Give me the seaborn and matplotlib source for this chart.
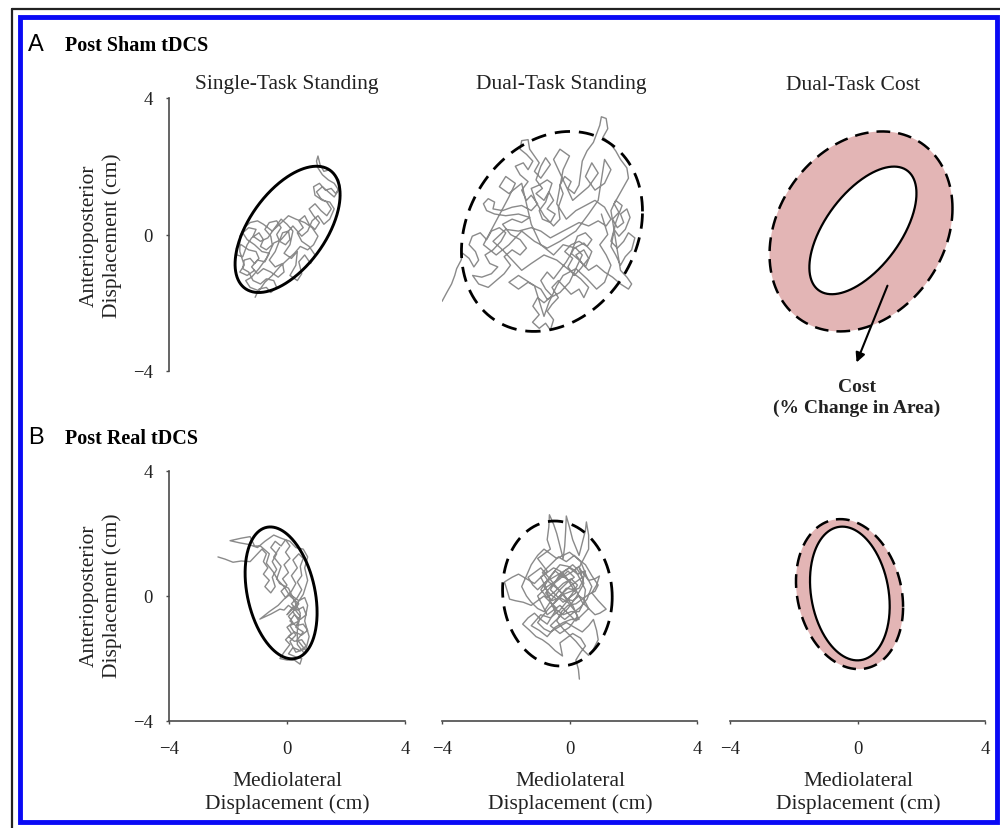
import numpy as np
import matplotlib
matplotlib.use("Agg")
import matplotlib.pyplot as plt
import seaborn as sns
from matplotlib.patches import Rectangle
from matplotlib.lines import Line2D

sns.set_theme(style="white")
plt.rcParams["font.family"] = ["Liberation Serif", "DejaVu Serif"]
plt.rcParams["axes.unicode_minus"] = True

# ---------------------------------------------------------------- text
ROW_LETTERS = ["A", "B"]
ROW_TITLES = ["Post Sham tDCS", "Post Real tDCS"]
COL_TITLES = ["Single-Task Standing", "Dual-Task Standing", "Dual-Task Cost"]
AXIS_TICKS = [-4, 0, 4]
TICK_LABELS = ["\u22124", "0", "4"]
Y_LABEL = "Anterioposterior\nDisplacement (cm)"
X_LABEL = "Mediolateral\nDisplacement (cm)"
COST_LABEL = "Cost\n(% Change in Area)"

# ------------------------------------------------ sway-area ellipses
# (centre ML, centre AP, ML half-range, AP half-range, ML/AP correlation)
SHAM_SINGLE_ELLIPSE = (0.02, 0.15, 1.78, 1.85, 0.55)
SHAM_DUAL_ELLIPSE = (-0.55, 0.09, 2.84, 2.93, 0.20)
SHAM_COST_OUTER = (0.11, 0.09, 2.87, 2.93, 0.23)
SHAM_COST_INNER = (0.17, 0.12, 1.68, 1.87, 0.58)
REAL_SINGLE_ELLIPSE = (-0.20, 0.10, 1.22, 2.11, -0.30)
REAL_DUAL_ELLIPSE = (-0.38, 0.08, 1.72, 2.32, -0.05)
REAL_COST_OUTER = (-0.25, 0.06, 1.68, 2.40, -0.17)
REAL_COST_INNER = (-0.24, 0.08, 1.25, 2.14, -0.19)

# ------------------------------------------ centre-of-pressure paths (cm)
SHAM_SINGLE_PATH = [
    (-1.08, -1.84), (-0.95, -1.6), (-0.7, -1.55), (-0.55, -1.7), (-0.35, -1.55), (-0.45, -1.35),
    (-0.7, -1.3), (-0.9, -1.45), (-1.15, -1.35), (-1.3, -1.1), (-1.5, -1.0), (-1.45, -0.75),
    (-1.25, -0.7), (-1.1, -0.85), (-0.95, -0.7), (-1.05, -0.5), (-1.3, -0.45), (-1.55, -0.3),
    (-1.72, -0.4), (-1.7, -0.6), (-1.5, -0.65), (-1.35, -0.3), (-1.2, -0.1), (-0.95, 0.05),
    (-0.8, -0.15), (-0.9, -0.35), (-0.7, -0.45), (-0.5, -0.3), (-0.55, -0.05), (-0.75, 0.15),
    (-0.6, 0.35), (-0.35, 0.4), (-0.2, 0.2), (-0.35, 0.0), (-0.25, -0.2), (-0.05, -0.3),
    (0.1, -0.15), (0.05, 0.1), (-0.15, 0.05), (-0.4, -0.5), (-0.6, -0.75), (-0.4, -0.95),
    (-0.15, -0.85), (-0.1, -1.1), (-0.3, -1.25), (-0.55, -1.1), (-0.8, -1.0), (-1.0, -1.15),
    (-1.2, -0.95), (-1.0, -0.75), (-0.75, -0.8), (-0.6, -0.55), (-0.85, -0.5), (-1.1, -0.3),
    (-1.35, -0.15), (-1.5, 0.05), (-1.3, 0.2), (-1.05, 0.15), (-1.15, -0.05), (-0.9, -0.2),
    (-0.65, -0.1), (-0.45, 0.15), (-0.2, 0.45), (0.0, 0.3), (0.2, 0.1), (0.1, -0.3),
    (-0.1, -0.55), (0.15, -0.7), (0.35, -0.5), (0.3, -0.9), (0.1, -1.2), (0.35, -1.35),
    (0.5, -1.15), (0.4, -0.8), (0.6, -0.6), (0.8, -0.85), (0.95, -0.6), (0.75, -0.35),
    (0.5, -0.2), (0.35, 0.05), (0.55, 0.2), (0.4, 0.4), (0.6, 0.55), (0.75, 0.3),
    (0.95, 0.15), (1.1, 0.35), (0.9, 0.55), (0.75, 0.75), (0.95, 0.9), (1.15, 0.7),
    (1.35, 0.55), (1.5, 0.75), (1.35, 0.95), (1.15, 1.05), (1.0, 1.25), (1.2, 1.4),
    (1.4, 1.25), (1.6, 1.1), (1.75, 1.3), (1.6, 1.5), (1.4, 1.6), (1.2, 1.75),
    (1.05, 1.95), (1.0, 2.15), (1.05, 2.3), (1.12, 2.05), (1.25, 1.85), (1.45, 1.9),
    (1.6, 1.75), (1.75, 1.6), (1.8, 1.4), (1.65, 1.2), (1.5, 1.35), (1.3, 1.3),
    (1.1, 1.5), (0.9, 1.4), (0.95, 1.15), (1.2, 1.0), (1.45, 0.95), (1.6, 0.75),
    (1.45, 0.45), (1.25, 0.3), (1.05, 0.55), (0.85, 0.4), (0.7, 0.1), (0.5, -0.05),
    (0.2, 0.25), (0.0, 0.05), (-0.2, -0.15), (-0.45, -0.25), (-0.7, -0.7), (-0.95, -1.0),
    (-1.2, -1.25), (-1.4, -1.35), (-1.25, -1.55), (-0.95, -1.65), (-0.75, -1.4), (-0.5, -1.2),
    (-0.25, -0.95), (0.0, -0.75), (0.25, -0.55), (0.45, -0.35), (0.7, -0.45), (0.9, -0.3),
    (1.05, -0.05), (0.85, 0.2), (0.6, 0.35), (0.3, 0.45), (0.05, 0.55), (-0.25, 0.3),
    (-0.5, 0.1), (-0.8, 0.3), (-1.0, 0.4), (-1.25, 0.35), (-1.45, 0.2), (-1.6, -0.05),
    (-1.6, -0.5), (-1.45, -0.9), (-1.6, -1.1), (-1.35, -1.2), (-1.1, -1.05),
]

SHAM_DUAL_PATH = [
    (-4.0, -1.96), (-3.85, -1.7), (-3.7, -1.45), (-3.6, -1.2), (-3.54, -1.0), (-3.4, -0.75),
    (-3.35, -0.55), (-3.15, -0.7), (-3.0, -0.95), (-2.85, -0.75), (-2.95, -0.5), (-3.15, -0.3),
    (-3.05, -0.05), (-2.8, 0.05), (-2.6, -0.15), (-2.45, 0.1), (-2.2, 0.2), (-2.0, 0.05),
    (-2.15, -0.2), (-2.4, -0.45), (-2.65, -0.6), (-2.5, -0.85), (-2.25, -0.95), (-2.45, -1.15),
    (-2.75, -1.25), (-3.04, -1.2), (-2.85, -1.45), (-2.55, -1.55), (-2.3, -1.35), (-2.05, -1.15),
    (-1.85, -0.9), (-2.05, -0.65), (-1.8, -0.45), (-1.55, -0.6), (-1.35, -0.4), (-1.55, -0.15),
    (-1.85, 0.0), (-2.1, 0.3), (-1.8, 0.45), (-1.5, 0.35), (-1.25, 0.5), (-1.6, 0.6),
    (-2.0, 0.55), (-2.35, 0.6), (-2.6, 0.7), (-2.7, 0.9), (-2.55, 1.05), (-2.35, 0.95),
    (-2.4, 0.75), (-2.1, 0.7), (-1.8, 0.8), (-1.5, 0.85), (-1.2, 0.7), (-1.0, 0.9),
    (-1.2, 1.15), (-1.35, 1.0), (-1.5, 1.3), (-1.3, 1.55), (-1.55, 1.75), (-1.7, 2.0),
    (-1.45, 2.1), (-1.3, 1.9), (-1.15, 2.15), (-1.35, 2.35), (-1.55, 2.5), (-1.5, 2.75),
    (-1.3, 2.78), (-1.25, 2.5), (-1.1, 2.3), (-0.95, 2.1), (-1.1, 1.85), (-0.9, 1.65),
    (-0.75, 1.85), (-0.6, 2.05), (-0.75, 2.25), (-0.9, 2.0), (-1.05, 1.6), (-0.85, 1.35),
    (-1.05, 1.2), (-0.8, 1.0), (-0.65, 1.25), (-0.5, 1.0), (-0.7, 0.75), (-0.45, 0.6),
    (-0.6, 0.35), (-0.85, 0.45), (-0.95, 0.7), (-0.75, 0.95), (-0.55, 1.5), (-0.7, 1.6),
    (-0.95, 1.45), (-1.2, 1.35), (-1.05, 0.95), (-0.8, 0.55), (-0.5, 0.25), (-0.3, 0.45),
    (-0.35, 0.8), (-0.2, 1.2), (-0.3, 1.45), (-0.15, 1.7), (0.05, 1.55), (-0.05, 1.35),
    (0.15, 1.2), (0.3, 1.45), (0.35, 1.8), (0.4, 2.15), (0.55, 2.45), (0.75, 2.7),
    (0.85, 2.95), (0.95, 3.2), (1.0, 3.45), (1.15, 3.4), (1.2, 3.1), (1.05, 2.85),
    (1.25, 2.7), (1.45, 2.45), (1.6, 2.2), (1.8, 1.95), (1.85, 1.65), (1.7, 1.4),
    (1.55, 1.15), (1.4, 0.9), (1.55, 0.65), (1.35, 0.45), (1.5, 0.2), (1.7, 0.35),
    (1.6, 0.6), (1.8, 0.75), (1.9, 0.5), (1.75, 0.15), (1.55, -0.05), (1.4, 0.15),
    (1.3, -0.2), (1.5, -0.4), (1.7, -0.2), (1.85, 0.05), (2.05, -0.1), (1.95, -0.45),
    (1.75, -0.65), (1.6, -0.9), (1.45, -0.6), (1.3, -0.35), (1.45, 0.35), (1.65, 0.85),
    (1.45, 1.0), (1.3, 0.7), (1.6, -1.05), (1.8, -1.25), (1.95, -1.45), (1.85, -1.6),
    (1.6, -1.45), (1.35, -1.25), (1.1, -1.1), (0.85, -0.9), (0.6, -1.05), (0.4, -0.85),
    (0.2, -0.6), (0.45, -0.45), (0.6, -0.7), (0.35, -1.0), (0.15, -1.2), (-0.05, -0.95),
    (0.1, -0.7), (-0.15, -0.5), (0.05, -0.3), (0.3, -0.2), (0.55, -0.35), (0.7, -0.15),
    (0.5, 0.05), (0.25, -0.05), (0.05, -0.55), (0.3, -0.75), (0.5, -0.95), (0.7, -0.5),
    (0.45, -0.25), (0.15, -0.4), (-0.1, -0.8), (-0.3, -1.05), (-0.5, -1.3), (-0.7, -1.1),
    (-0.9, -1.35), (-0.75, -1.6), (-0.55, -1.8), (-0.8, -2.0), (-1.0, -1.85), (-1.15, -2.1),
    (-0.95, -2.35), (-1.16, -2.57), (-0.95, -2.75), (-0.75, -2.6), (-0.6, -2.8), (-0.5, -2.5),
    (-0.7, -2.25), (-0.55, -2.05), (-0.35, -1.85), (-0.55, -1.55), (-0.35, -1.35), (-0.15, -1.55),
    (0.05, -1.75), (0.3, -1.6), (0.45, -1.85), (0.6, -1.55), (0.35, -1.3), (0.0, -1.05),
    (-0.4, -0.75), (-0.8, -0.6), (-1.2, -0.85), (-1.5, -1.05), (-1.8, -0.75), (-2.1, -0.45),
    (-2.4, -0.2), (-2.0, 0.15), (-1.6, 0.1), (-1.2, 0.2), (-0.9, 0.1), (-0.6, -0.1),
    (-0.3, 0.05), (0.0, 0.2), (0.3, 0.35), (0.6, 0.25), (0.9, 0.4), (1.15, 0.25),
    (1.3, 0.45), (1.1, 0.8), (0.8, 1.0), (0.5, 0.85), (0.2, 0.7), (-0.1, 0.45),
    (-0.4, 0.9), (-0.2, 1.9), (0.0, 2.3), (-0.3, 2.5), (-0.5, 2.2), (-0.3, 1.8),
    (0.1, 1.0), (0.6, 1.4), (0.9, 1.8), (0.7, 2.1), (0.5, 1.7), (0.8, 1.3),
    (1.1, 1.5), (1.3, 1.9), (1.1, 2.2), (0.9, 1.0), (0.6, 0.6), (0.2, 0.1),
    (-0.3, -0.2), (-0.7, -0.4), (-1.1, -0.2), (-1.5, 0.1), (-1.9, -0.3), (-2.3, -0.6),
    (-2.7, -0.3), (-2.3, 0.4), (-1.9, 1.1), (-1.7, 1.5), (-2.0, 1.7), (-2.2, 1.4),
    (-1.9, 1.2), (-1.5, 1.5), (-1.2, 0.3), (-0.9, -0.3), (-0.5, -0.6), (-0.2, -0.3),
    (0.2, -0.4), (0.4, -0.6), (0.25, -0.9), (0.0, -1.4), (-0.3, -1.7), (-0.7, -1.9),
    (-0.9, -1.6), (-1.3, -1.4), (-1.6, -1.6), (-1.9, -1.4), (-1.6, -1.2), (-1.1, -1.5),
    (-0.8, -2.4), (-0.65, -2.0), (-0.4, -1.5), (-0.2, -1.2), (0.2, -1.0), (0.55, -1.3),
    (0.85, -1.6), (1.1, -1.4), (1.3, -0.9), (1.15, -0.6), (0.95, -0.3), (1.2, 0.0),
    (1.0, 0.6),
]

REAL_SINGLE_PATH = [
    (-2.34, 1.25), (-2.1, 1.18), (-1.83, 1.08), (-1.55, 1.12), (-1.25, 1.1), (-1.05, 1.3),
    (-0.85, 1.5), (-0.7, 1.35), (-0.8, 1.1), (-0.65, 0.9), (-0.8, 0.7), (-0.6, 0.5),
    (-0.75, 0.3), (-0.55, 0.1), (-0.4, 0.3), (-0.5, 0.6), (-0.35, 0.85), (-0.5, 1.1),
    (-0.35, 1.35), (-0.55, 1.55), (-0.4, 1.75), (-0.2, 1.6), (-0.05, 1.8), (0.1, 1.6),
    (-0.05, 1.4), (0.1, 1.2), (-0.1, 1.0), (0.05, 0.75), (-0.15, 0.55), (0.0, 0.35),
    (-0.2, 0.15), (-0.05, -0.05), (0.15, 0.15), (0.3, 0.4), (0.15, 0.65), (0.35, 0.9),
    (0.2, 1.15), (0.4, 1.35), (0.55, 1.2), (0.45, 0.95), (0.5, 0.65), (0.35, 0.45),
    (0.5, 0.2), (0.35, -0.05), (0.15, -0.25), (0.35, -0.45), (0.55, -0.35), (0.65, -0.6),
    (0.45, -0.75), (0.25, -0.6), (0.1, -0.8), (0.3, -0.95), (0.55, -0.9), (0.7, -1.1),
    (0.5, -1.25), (0.25, -1.15), (0.05, -1.3), (0.25, -1.45), (0.5, -1.4), (0.65, -1.6),
    (0.45, -1.75), (0.2, -1.65), (0.05, -1.85), (0.3, -1.95), (0.5, -2.0), (0.44, -2.18),
    (0.25, -2.05), (0.0, -2.05), (-0.24, -2.0), (-0.1, -1.8), (0.1, -1.55), (-0.05, -1.4),
    (0.15, -1.2), (0.0, -1.0), (0.2, -0.85), (0.05, -0.65), (0.25, -0.45), (0.05, -0.3),
    (-0.1, -0.45), (-0.24, -0.42), (-0.55, -0.58), (-0.92, -0.74), (-0.6, -0.5), (-0.3, -0.3),
    (-0.1, -0.1), (0.1, 0.05), (0.4, -0.15), (0.6, -0.05), (0.7, -0.3), (0.6, -0.8),
    (0.75, -1.3), (0.6, -1.85), (0.35, -1.55), (0.35, -1.1), (0.45, -0.55), (0.25, -0.15),
    (0.05, 0.25), (-0.25, 0.4), (-0.45, 0.75), (-0.7, 1.05), (-0.6, 1.35), (-0.9, 1.6),
    (-1.1, 1.6), (-1.25, 1.9), (-1.55, 1.85), (-1.93, 1.77), (-1.6, 1.7), (-1.3, 1.65),
    (-1.0, 1.55), (-0.75, 1.75), (-0.45, 1.95), (-0.2, 1.85), (0.1, 1.75), (0.3, 1.55),
    (0.55, 1.5), (0.7, 1.25), (0.6, 0.9), (0.7, 0.5), (0.55, 0.05), (0.3, -0.3),
    (0.0, -0.6), (0.2, -0.35), (0.45, -0.65), (0.3, -1.0), (0.55, -1.15), (0.35, -1.4),
    (0.6, -1.7), (0.3, -1.8), (0.1, -1.45), (0.3, -1.25), (0.1, -0.95), (0.4, -0.8),
    (0.2, -0.5), (0.4, -0.25), (0.1, 0.0), (-0.1, 0.3), (-0.35, 0.55), (-0.2, 0.95),
    (-0.45, 1.25), (-0.25, 1.55),
]

REAL_DUAL_PATH = [
    (0.31, -2.66), (0.28, -2.35), (0.2, -2.05), (0.35, -1.8), (0.5, -1.6), (0.35, -1.35),
    (0.1, -1.2), (-0.1, -1.35), (-0.3, -1.5), (-0.22, -1.92), (-0.45, -1.75), (-0.65, -1.55),
    (-0.85, -1.4), (-1.05, -1.3), (-1.25, -1.1), (-1.47, -0.9), (-1.3, -0.7), (-1.1, -0.55),
    (-0.9, -0.75), (-0.7, -0.9), (-0.55, -0.65), (-0.4, -0.4), (-0.6, -0.2), (-0.8, 0.0),
    (-1.0, -0.15), (-1.2, -0.3), (-1.45, -0.2), (-1.7, -0.15), (-1.88, -0.1), (-1.95, 0.15),
    (-2.04, 0.45), (-1.8, 0.6), (-1.6, 0.7), (-1.35, 0.55), (-1.1, 0.4), (-0.9, 0.6),
    (-0.7, 0.8), (-0.85, 1.0), (-1.0, 1.2), (-0.8, 1.35), (-0.6, 1.5), (-0.7, 1.8),
    (-0.65, 2.2), (-0.63, 2.6), (-0.5, 2.3), (-0.4, 2.0), (-0.3, 1.6), (-0.2, 1.2),
    (-0.15, 1.6), (-0.12, 2.1), (-0.1, 2.56), (0.0, 2.2), (0.1, 1.8), (0.2, 1.55),
    (0.3, 1.3), (0.4, 1.7), (0.5, 2.1), (0.53, 2.37), (0.6, 1.95), (0.6, 1.5),
    (0.45, 1.2), (0.3, 0.9), (0.45, 0.7), (0.6, 0.5), (0.8, 0.55), (0.94, 0.64),
    (0.85, 0.35), (0.7, 0.1), (0.9, -0.15), (1.15, -0.42), (0.95, -0.55), (0.8, -0.6),
    (0.6, -0.4), (0.4, -0.2), (0.25, 0.1), (0.1, 0.4), (-0.1, 0.55), (-0.3, 0.7),
    (-0.45, 0.45), (-0.6, 0.2), (-0.4, 0.0), (-0.2, -0.2), (0.0, -0.05), (0.2, 0.1),
    (0.05, 0.35), (-0.1, 0.6), (-0.3, 0.8), (-0.5, 0.9), (-0.7, 0.75), (-0.9, 0.6),
    (-0.75, 0.3), (-0.6, -0.2), (-0.4, -0.45), (-0.2, -0.6), (0.05, -0.5), (0.3, -0.5),
    (0.45, -0.2), (0.5, 0.2), (0.35, 0.5), (0.2, 0.8), (-0.05, 0.95), (-0.3, 1.0),
    (-0.55, 0.7), (-0.8, 0.3), (-0.6, 0.05), (-0.4, -0.1), (-0.15, 0.15), (0.0, 0.3),
    (0.2, 0.45), (0.4, 0.6), (0.25, 0.85), (0.1, 1.0), (-0.15, 0.8), (-0.4, 0.5),
    (-0.7, 0.3), (-1.0, 0.0), (-0.85, -0.3), (-0.7, -0.6), (-0.5, -0.45), (-0.3, -0.3),
    (-0.05, -0.55), (0.2, -0.8), (0.4, -0.6), (0.6, -0.4), (0.45, -0.1), (0.3, 0.0),
    (0.1, -0.15), (-0.1, -0.1), (-0.3, 0.15), (-0.5, 0.4), (-0.7, 0.65), (-0.9, 0.9),
    (-1.1, 0.75), (-1.3, 0.6), (-1.15, 0.35), (-1.0, 0.2), (-0.75, 0.45), (-0.5, 0.6),
    (-0.25, 0.75), (0.0, 0.9), (0.25, 0.7), (0.5, 0.8), (0.4, 0.45), (0.3, 0.25),
    (0.05, 0.15), (-0.2, 0.05), (-0.45, -0.2), (-0.65, -0.4), (-0.85, -0.65), (-1.0, -0.85),
    (-0.8, -1.05), (-0.6, -1.15), (-0.35, -1.0), (-0.1, -0.85), (0.15, -1.0), (0.4, -1.15),
    (0.6, -0.95), (0.75, -0.75), (0.85, -1.1), (0.9, -1.4), (0.75, -1.7), (0.6, -1.9),
    (0.4, -1.7), (0.2, -1.45), (0.0, -1.25), (-0.2, -1.05), (-0.4, -0.8), (-0.25, -0.5),
    (-0.05, -0.3), (0.2, -0.25), (0.4, -0.1), (0.6, 0.05), (0.8, 0.15), (0.9, 0.35),
    (0.7, 0.65), (0.5, 1.0), (0.25, 1.2), (0.0, 1.4), (-0.2, 1.3), (-0.4, 1.2),
    (-0.6, 1.35), (-0.8, 1.5), (-1.0, 1.3), (-1.2, 1.0), (-1.35, 0.65), (-1.5, 0.3),
    (-1.35, 0.0), (-1.2, -0.2), (-1.0, -0.4), (-0.8, -0.5), (-0.55, -0.1), (-0.3, 0.2),
    (-0.05, 0.45), (0.15, 0.6), (-0.05, 0.8), (-0.3, 0.55), (-0.55, 0.35), (-0.75, 0.1),
    (-0.55, -0.15), (-0.3, -0.05), (-0.05, -0.2), (0.15, -0.45), (0.3, -0.75), (0.05, -0.75),
    (-0.2, -0.85), (-0.45, -1.0), (-0.7, -1.3), (-0.95, -1.1), (-1.2, -0.95), (-0.9, -0.6),
    (-0.6, -0.7), (-0.3, -0.45), (-0.1, -0.2), (0.1, 0.1), (0.25, 0.35), (0.05, 0.55),
    (-0.2, 0.4), (-0.45, 0.15), (-0.7, -0.05), (-0.9, 0.2), (-0.7, 0.5), (-0.45, 0.8),
    (-0.2, 0.6), (0.05, 0.75), (0.3, 0.95), (0.45, 0.4), (0.2, -0.05), (-0.05, -0.4),
    (-0.35, -0.7), (-0.6, -0.95), (-0.3, -1.2), (0.0, -1.0), (0.25, -0.65), (0.1, -0.3),
    (-0.15, 0.0), (-0.4, 0.25), (-0.65, 0.45), (-0.85, 0.75), (-0.6, 1.0), (-0.35, 1.25),
    (-0.1, 1.1), (0.15, 1.3), (0.35, 1.1), (0.55, 0.6), (0.7, 0.3), (0.55, -0.1),
    (0.35, -0.35), (0.1, -0.55), (-0.15, -0.75), (-0.4, -0.55), (-0.55, -0.3), (-0.3, 0.0),
    (-0.1, 0.25), (0.15, 0.2),
]

# ---------------------------------------------------------------- styling
TRACE_COLOR = "#8a8a8a"
COST_FILL = "#e3b5b5"
SPINE_COLOR = "#4a4a4a"
FRAME_BLUE = "#0a0af5"
DASH = (0, (5.5, 3.2))

W, H = 1000, 829
COL_PX = [(169, 405), (442, 697), (730, 985)]
ROW_PX = [(99, 372), (472, 722)]

fig = plt.figure(figsize=(W / 100, H / 100), dpi=100)
fig.patch.set_facecolor("white")


def ellipse_xy(params, n=400):
    cx, cy, sx, sy, rho = params
    t = np.linspace(0, 2 * np.pi, n)
    delta = np.arccos(rho)
    return cx + sx * np.cos(t), cy + sy * np.cos(t - delta)


def panel(row, col):
    x0, x1 = COL_PX[col]
    yt, yb = ROW_PX[row]
    ax = fig.add_axes([x0 / W, 1 - yb / H, (x1 - x0) / W, (yb - yt) / H])
    ax.set_xlim(-4, 4)
    ax.set_ylim(-4, 4)
    ax.set_facecolor("none")
    for s in ax.spines.values():
        s.set_visible(False)
    ax.set_xticks([])
    ax.set_yticks([])
    return ax


def draw_trace(ax, path):
    xs = [p[0] for p in path]
    ys = [p[1] for p in path]
    sns.lineplot(x=xs, y=ys, sort=False, estimator=None, color=TRACE_COLOR,
                 linewidth=1.0, ax=ax, zorder=2)
    ax.set_xlabel("")
    ax.set_ylabel("")


def draw_ellipse(ax, params, dashed=False, lw=2.0):
    ex, ey = ellipse_xy(params)
    ax.plot(ex, ey, color="black", lw=lw, linestyle=DASH if dashed else "-",
            zorder=4, solid_capstyle="butt", dash_capstyle="butt")


def draw_cost(ax, outer, inner):
    ox, oy = ellipse_xy(outer)
    ix, iy = ellipse_xy(inner)
    ax.fill(ox, oy, color=COST_FILL, lw=0, zorder=1)
    ax.fill(ix, iy, color="white", lw=0, zorder=1.5)
    draw_ellipse(ax, outer, dashed=True, lw=1.8)
    draw_ellipse(ax, inner, dashed=False, lw=1.6)


def show_y_axis(ax):
    ax.spines["left"].set_visible(True)
    ax.spines["left"].set_color(SPINE_COLOR)
    ax.spines["left"].set_linewidth(1.2)
    ax.set_yticks(AXIS_TICKS)
    ax.set_yticklabels(TICK_LABELS)
    ax.tick_params(axis="y", left=True, direction="out", length=2.5, width=1,
                   color=SPINE_COLOR, pad=9, labelsize=13.5, labelcolor="#222222")


def show_x_axis(ax):
    ax.spines["bottom"].set_visible(True)
    ax.spines["bottom"].set_color(SPINE_COLOR)
    ax.spines["bottom"].set_linewidth(1.2)
    ax.set_xticks(AXIS_TICKS)
    ax.set_xticklabels(TICK_LABELS)
    ax.tick_params(axis="x", bottom=True, direction="out", length=2.5, width=1,
                   color=SPINE_COLOR, pad=11, labelsize=13.5, labelcolor="#222222")


# ---- row A: post sham tDCS
a1 = panel(0, 0)
draw_trace(a1, SHAM_SINGLE_PATH)
draw_ellipse(a1, SHAM_SINGLE_ELLIPSE, lw=2.1)
show_y_axis(a1)

a2 = panel(0, 1)
draw_trace(a2, SHAM_DUAL_PATH)
draw_ellipse(a2, SHAM_DUAL_ELLIPSE, dashed=True, lw=2.0)

a3 = panel(0, 2)
draw_cost(a3, SHAM_COST_OUTER, SHAM_COST_INNER)
a3.annotate("", xy=(-0.03, -3.75), xytext=(0.94, -1.5),
            arrowprops=dict(arrowstyle="-|>", color="black", lw=1.5,
                            mutation_scale=14, shrinkA=0, shrinkB=0),
            annotation_clip=False, zorder=5)

# ---- row B: post real tDCS
b1 = panel(1, 0)
draw_trace(b1, REAL_SINGLE_PATH)
draw_ellipse(b1, REAL_SINGLE_ELLIPSE, lw=2.1)
show_y_axis(b1)
show_x_axis(b1)

b2 = panel(1, 1)
draw_trace(b2, REAL_DUAL_PATH)
draw_ellipse(b2, REAL_DUAL_ELLIPSE, dashed=True, lw=2.0)
show_x_axis(b2)

b3 = panel(1, 2)
draw_cost(b3, REAL_COST_OUTER, REAL_COST_INNER)
show_x_axis(b3)


# ---- text
def fx(px):
    return px / W


def fy(py):
    return 1 - py / H


for title, cx in zip(COL_TITLES, [287, 561, 853]):
    fig.text(fx(cx), fy(85), title, ha="center", va="center", fontsize=15.5,
             color="#222222")

for letter, title, py in zip(ROW_LETTERS, ROW_TITLES, [45, 438]):
    fig.text(fx(28), fy(py), letter, ha="left", va="center", fontsize=17,
             family="Liberation Sans", color="black")
    fig.text(fx(65), fy(py + 1), title, ha="left", va="center", fontsize=14.5,
             fontweight="bold", color="black")

for py in [236, 596]:
    fig.text(fx(101), fy(py), Y_LABEL, ha="center", va="center", rotation=90,
             fontsize=15.5, linespacing=1.2, color="#222222")

for cx in [287, 570, 858]:
    fig.text(fx(cx), fy(793), X_LABEL, ha="center", va="center", fontsize=15.5,
             linespacing=1.2, color="#222222")

fig.text(fx(857), fy(398), COST_LABEL, ha="center", va="center", fontsize=14,
         fontweight="bold", linespacing=1.3, color="#222222")

# ---- outer frames
fig.patches.append(Rectangle((fx(20), fy(823)), (997 - 20) / W, (823 - 18) / H,
                             transform=fig.transFigure, fill=False,
                             edgecolor=FRAME_BLUE, lw=3.5, zorder=10))
fig.lines.append(Line2D([fx(12), fx(1000)], [fy(10), fy(10)],
                        transform=fig.transFigure, color="#222222", lw=1.6))
fig.lines.append(Line2D([fx(12), fx(12)], [fy(10), fy(829)],
                        transform=fig.transFigure, color="#222222", lw=1.6))

fig.savefig("out.png", dpi=100, facecolor="white")
